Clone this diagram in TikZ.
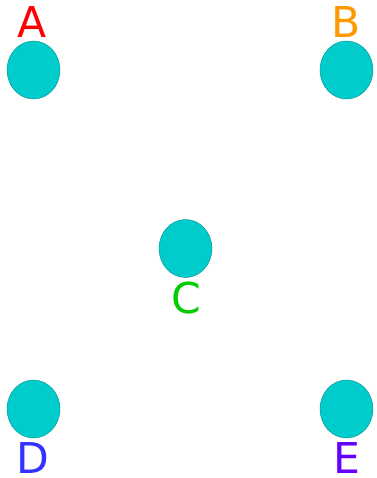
\documentclass[tikz,border=0pt]{standalone}
\usepackage{fontspec}
\setmainfont{DejaVu Sans}
\usetikzlibrary{shapes.geometric}
\definecolor{dotfill}{RGB}{0,204,204}
\definecolor{dotline}{RGB}{0,140,140}
\definecolor{cA}{RGB}{255,0,0}
\definecolor{cB}{RGB}{255,153,0}
\definecolor{cC}{RGB}{0,204,0}
\definecolor{cD}{RGB}{51,51,255}
\definecolor{cE}{RGB}{102,0,255}
\begin{document}
\begin{tikzpicture}[x=1pt,y=-1pt,
  dot/.style={ellipse,draw=dotline,fill=dotfill,line width=0.4pt,minimum width=53pt,minimum height=58pt,inner sep=0pt},
  lab/.style={anchor=base,inner sep=0pt,text depth=0pt,font=\fontsize{42.5}{42.5}\selectfont}]
\useasboundingbox (0,0) rectangle (376,478);
\fill[white] (0,0) rectangle (376,478);
\node[dot] (a) at (33.5,70) {};
\node[dot] (b) at (346.5,70) {};
\node[dot] (c) at (185.5,248.5) {};
\node[dot] (d) at (33.5,409) {};
\node[dot] (e) at (346.5,409) {};
\node[lab,text=cA] (la) at (32.5,38) {A};
\node[lab,text=cB] (lb) at (346.5,38) {B};
\node[lab,text=cC] (lc) at (186.5,313) {C};
\node[lab,text=cD] (ld) at (33,473) {D};
\node[lab,text=cE] (le) at (346.5,473) {E};
\end{tikzpicture}
\end{document}
